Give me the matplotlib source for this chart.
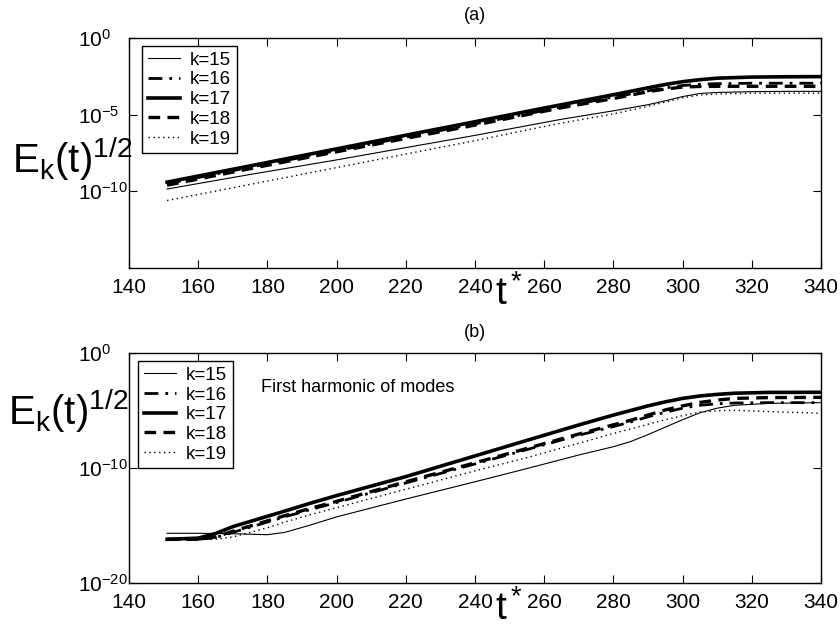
import numpy as np
import matplotlib
matplotlib.use('Agg')
import matplotlib.pyplot as plt

plt.rcParams['font.family'] = ['Liberation Sans', 'DejaVu Sans']
plt.rcParams['mathtext.fontset'] = 'custom'
plt.rcParams['mathtext.rm'] = 'Liberation Sans'
plt.rcParams['mathtext.it'] = 'Liberation Sans'
plt.rcParams['mathtext.default'] = 'regular'

# modes
labels = ['k=15', 'k=16', 'k=17', 'k=18', 'k=19']

# (a) log10 of E_k(t)^(1/2)
t_a = [151, 175, 200, 225, 240, 255, 265, 280, 290, 295, 300, 305, 310, 320, 330, 340]
a_k15 = [-9.85, -8.9, -7.95, -6.95, -6.35, -5.72, -5.3, -4.75, -4.35, -4.1, -3.82, -3.62, -3.55, -3.5, -3.48, -3.48]
a_k16 = [-9.5, -8.43, -7.35, -6.25, -5.6, -4.95, -4.5, -3.85, -3.45, -3.26, -3.1, -3.02, -2.98, -2.95, -2.95, -2.95]
a_k17 = [-9.4, -8.34, -7.23, -6.12, -5.46, -4.79, -4.35, -3.7, -3.25, -3.03, -2.85, -2.72, -2.62, -2.55, -2.53, -2.52]
a_k18 = [-9.6, -8.52, -7.42, -6.33, -5.68, -5.0, -4.55, -3.95, -3.5, -3.33, -3.2, -3.16, -3.15, -3.15, -3.15, -3.15]
a_k19 = [-10.6, -9.55, -8.45, -7.35, -6.7, -6.0, -5.55, -4.95, -4.45, -4.18, -3.9, -3.72, -3.65, -3.6, -3.6, -3.6]

# (b) first harmonic
t_b = [151, 160, 165, 170, 180, 185, 192, 200, 220, 240, 255, 270, 280, 285, 290, 295, 300, 305, 310, 315, 325, 340]
b_k15 = [-15.68, -15.68, -15.7, -15.72, -15.8, -15.6, -15.0, -14.25, -12.7, -11.2, -10.05, -8.87, -8.15, -7.7, -7.1, -6.45, -5.8, -5.2, -4.8, -4.55, -4.38, -4.32]
b_k16 = [-16.2, -16.2, -16.05, -15.6, -14.7, -14.25, -13.65, -13.0, -11.3, -9.65, -8.4, -7.15, -6.4, -6.0, -5.55, -5.15, -4.8, -4.55, -4.42, -4.35, -4.32, -4.32]
b_k17 = [-16.2, -16.1, -15.7, -15.1, -14.2, -13.75, -13.1, -12.4, -10.75, -8.95, -7.6, -6.26, -5.4, -5.0, -4.6, -4.25, -3.95, -3.74, -3.6, -3.5, -3.43, -3.42]
b_k18 = [-16.2, -16.2, -16.0, -15.5, -14.6, -14.15, -13.55, -12.9, -11.2, -9.55, -8.3, -7.05, -6.25, -5.85, -5.4, -4.95, -4.6, -4.3, -4.1, -3.95, -3.88, -3.86]
b_k19 = [-16.2, -16.2, -16.2, -16.0, -15.2, -14.7, -14.1, -13.45, -11.85, -10.25, -9.1, -7.85, -7.0, -6.6, -6.2, -5.8, -5.45, -5.15, -5.02, -4.98, -5.1, -5.25]

styles = [dict(color='black', lw=0.8, ls='-'),
          dict(color='black', lw=2.0, ls=(0, (5, 2.5, 1, 2.5))),
          dict(color='black', lw=2.6, ls='-'),
          dict(color='black', lw=2.4, ls=(0, (3.5, 2.2))),
          dict(color='black', lw=1.0, ls=(0, (1, 2.5)))]


def panel(ax, t, series, ylim, yticks):
    for vals, st, lab in zip(series, styles, labels):
        ax.plot(t, 10.0 ** np.array(vals), label=lab, **st)
    ax.set_yscale('log')
    ax.set_xlim(140, 340)
    ax.set_ylim(*ylim)
    ax.set_xticks(range(140, 341, 20))
    ax.set_yticks(yticks)
    ax.minorticks_off()
    ax.tick_params(direction='in', top=True, right=True, labelsize=15, length=6)
    ax.tick_params(axis='x', pad=7)
    ax.tick_params(axis='y', pad=37)
    for lbl in ax.get_yticklabels():
        lbl.set_horizontalalignment('left')
    for sp in ax.spines.values():
        sp.set_linewidth(1.0)


fig = plt.figure(figsize=(8.4, 6.33), dpi=100)
ax1 = fig.add_axes([0.1536, 0.5766, 0.8238, 0.3634])
ax2 = fig.add_axes([0.1536, 0.0790, 0.8238, 0.3634])

panel(ax1, t_a, [a_k15, a_k16, a_k17, a_k18, a_k19], (1e-15, 1e0), [1e-10, 1e-5, 1e0])
panel(ax2, t_b, [b_k15, b_k16, b_k17, b_k18, b_k19], (1e-20, 1e0), [1e-20, 1e-10, 1e0])

for ax, (x0, y0) in [(ax1, (142, 46)), (ax2, (138, 361))]:
    leg = ax.legend(loc='upper left', bbox_to_anchor=(x0 / 840, 1 - y0 / 633),
                    bbox_transform=fig.transFigure, borderaxespad=0, fontsize=13.5,
                    fancybox=False, framealpha=1, edgecolor='black',
                    handlelength=1.7, labelspacing=0.14, handletextpad=0.55,
                    borderpad=0.3)
    leg.get_frame().set_linewidth(1.0)

# titles and labels placed like the original
fig.text(475 / 840, 1 - 15 / 633, '(a)', fontsize=13, ha='center', va='center')
fig.text(475 / 840, 1 - 332 / 633, '(b)', fontsize=13, ha='center', va='center')
fig.text(72 / 840, 1 - 159 / 633, r'$E_k(t)^{1/2}$', fontsize=29, ha='center', va='center')
fig.text(68 / 840, 1 - 411 / 633, r'$E_k(t)^{1/2}$', fontsize=29, ha='center', va='center')
fig.text(509 / 840, 1 - 294 / 633, r'$t^*$', fontsize=28, ha='center', va='center')
fig.text(509 / 840, 1 - 609 / 633, r'$t^*$', fontsize=28, ha='center', va='center')
ax2.text(261 / 840, 1 - 388 / 633, 'First harmonic of modes', fontsize=13,
         ha='left', va='center', transform=fig.transFigure)

fig.savefig('out.png', dpi=100)
